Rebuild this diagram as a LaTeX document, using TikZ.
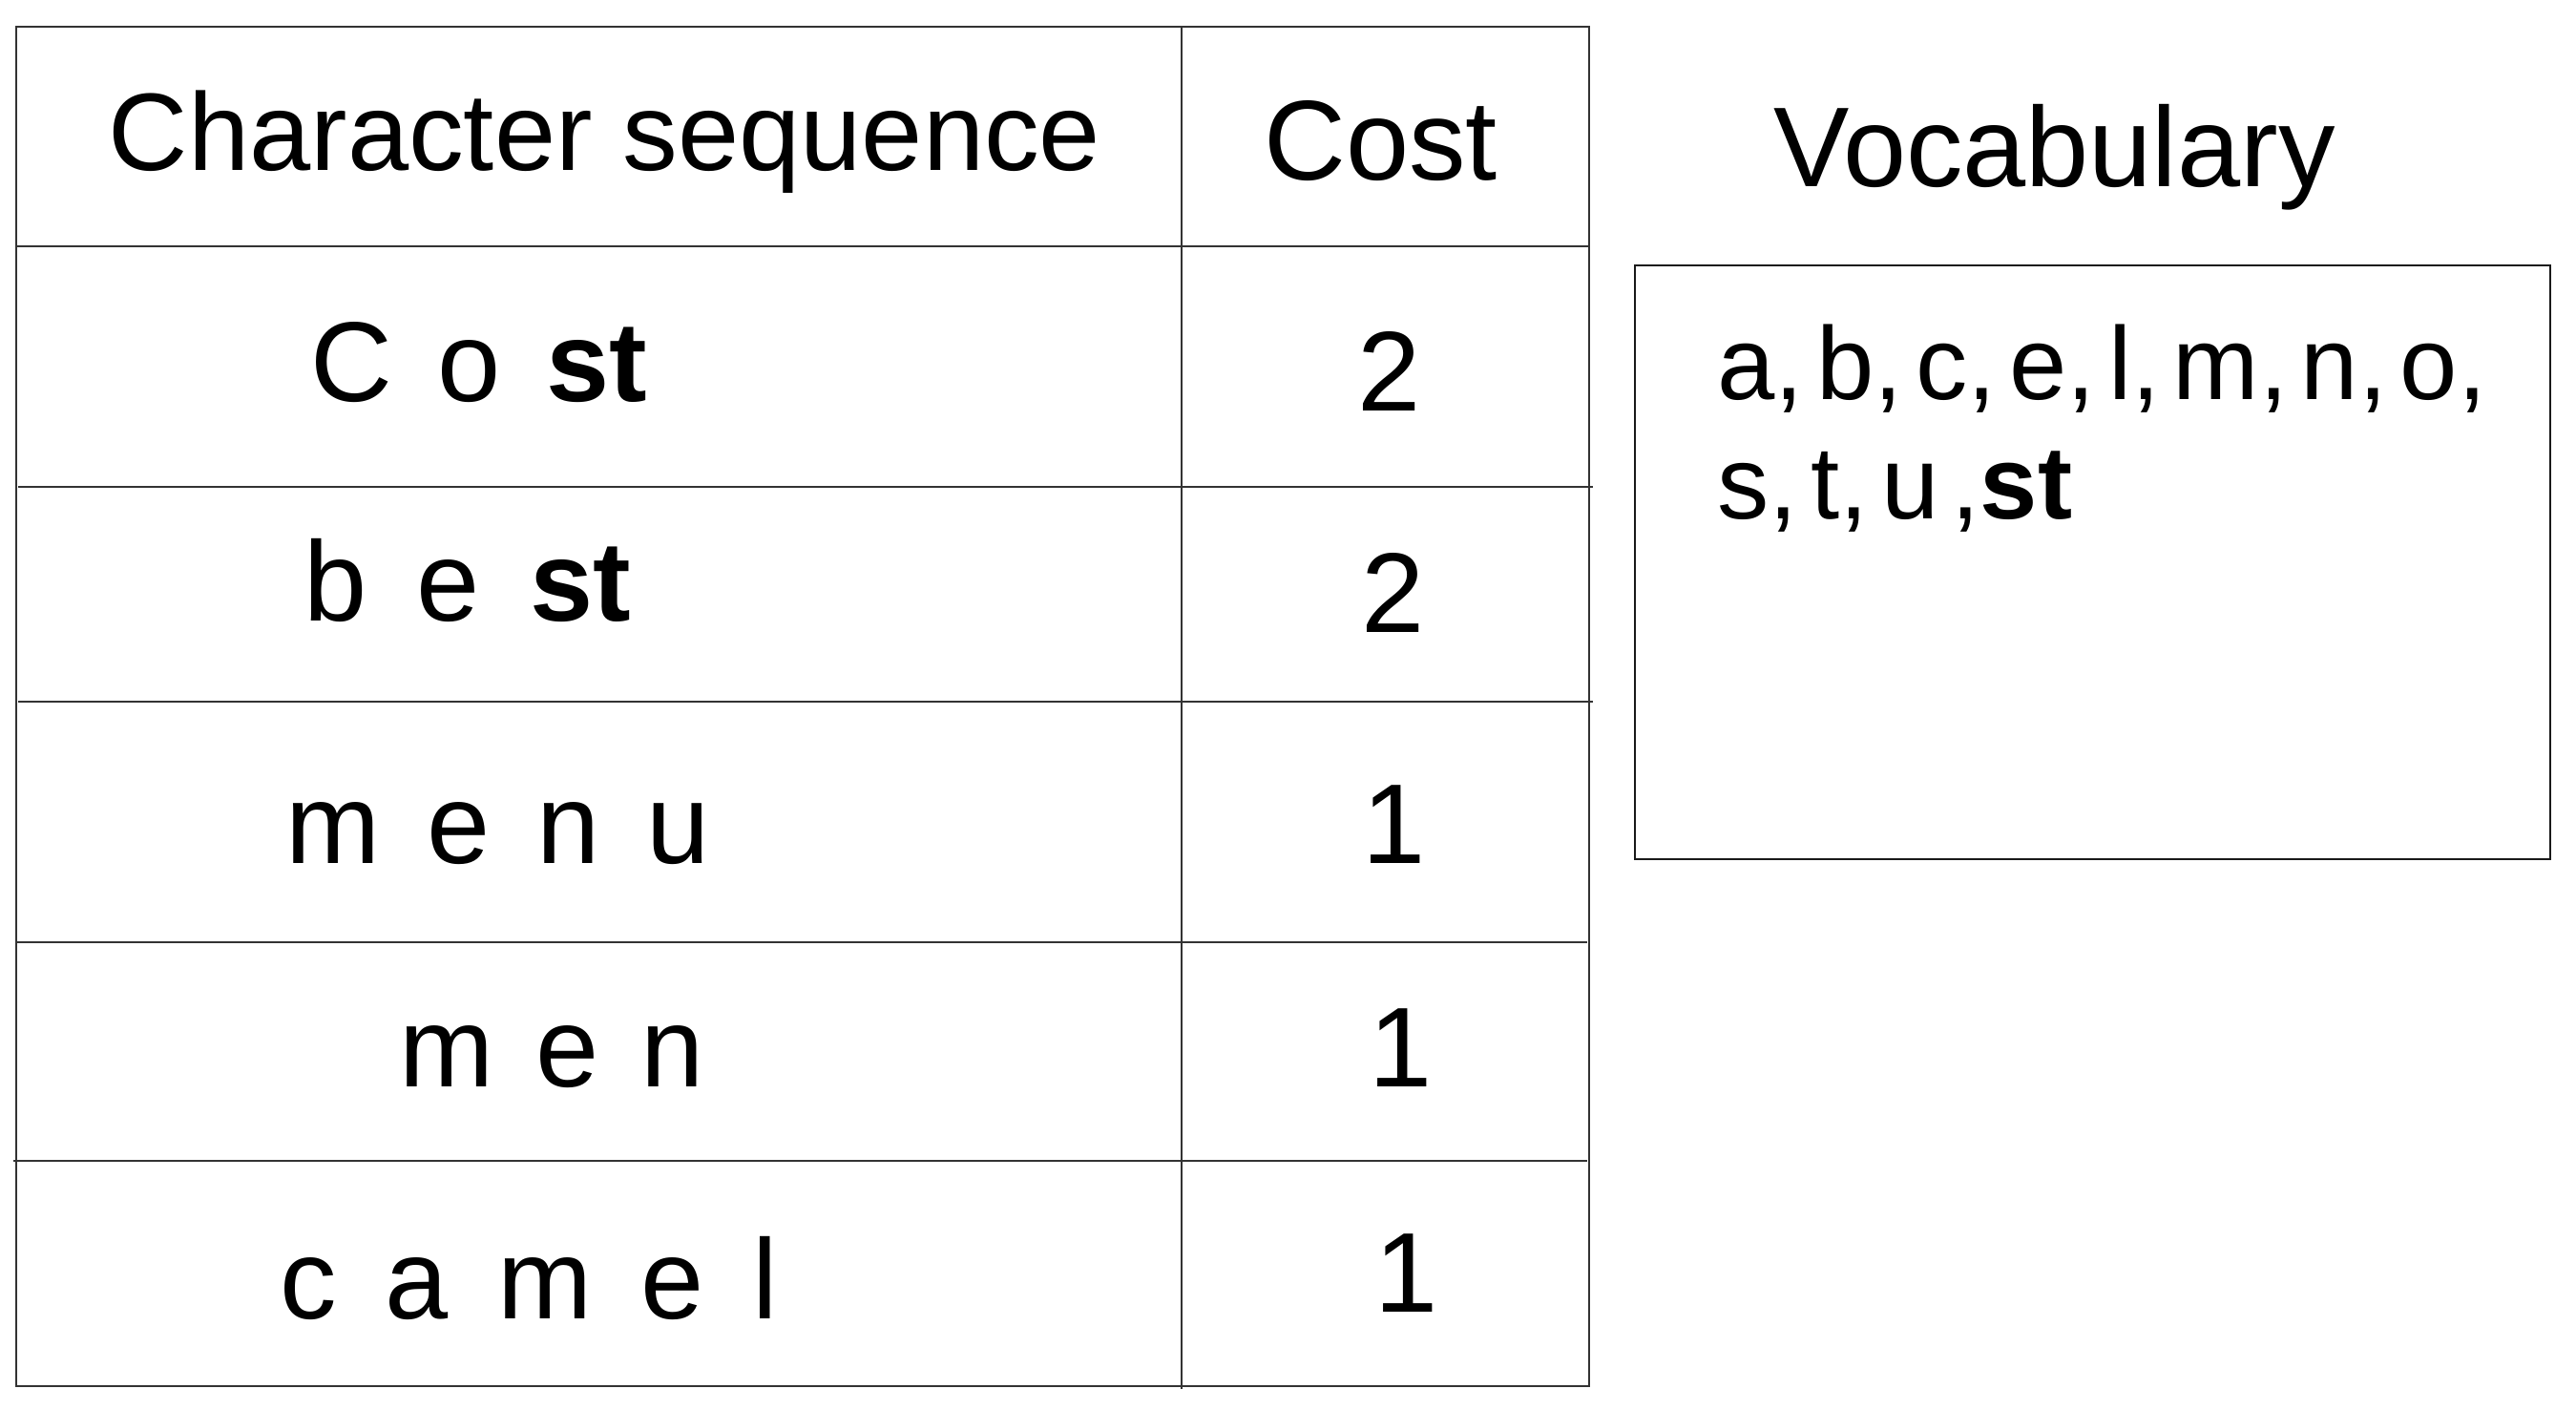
\documentclass[tikz,border=0pt]{standalone}
\usepackage{fontspec}
\setmainfont{Liberation Sans}
\usetikzlibrary{shapes,arrows,positioning}
\newcommand{\vocabfont}{\fontsize{31}{36}\selectfont\spaceskip=0.125em\relax}
\tikzstyle{rule}     = [draw=black!80, line width=0.6pt]
\tikzstyle{cell}     = [inner sep=0pt, anchor=base west, font=\fontsize{34}{36}\selectfont]
\tikzstyle{num}      = [inner sep=0pt, anchor=base, font=\fontsize{34}{36}\selectfont]
\tikzstyle{vocab}    = [inner sep=0pt, anchor=base west, font=\vocabfont]
\tikzstyle{vbox}     = [draw=black!90, line width=0.6pt, anchor=north west, minimum width=9.636cm, minimum height=6.245cm]
\newcommand{\lgap}[1]{\hspace{#1em}}

\begin{document}
\begin{tikzpicture}[x=0.0173cm, y=-0.0173cm]
	\useasboundingbox (0,0) rectangle (1567.4,857.7);
	% Table %
	\draw [rule] (10,16) rectangle (967,843);
	\draw [rule] (719,16) -- (719,845);
	\foreach \y/\a/\b in {150/10/967, 296/11/969, 427/11/969, 573/10/966, 706/8/966}
		\draw [rule] (\a,\y) -- (\b,\y);
	% Header %
	\node [num, font=\fontsize{33}{36}\selectfont] (seqhead) at (368,103.5) {Character sequence};
	\node [num] (costhead) at (840,109.5) {Cost};
	% Rows %
	\node [cell] (seq1) at (188.5,244) {C\lgap{.4}o\lgap{.4}\textbf{st}};
	\node [cell] (seq2) at (184.5,378) {b\lgap{.44}e\lgap{.44}\textbf{st}};
	\node [cell] (seq3) at (173.5,525) {m\lgap{.41}e\lgap{.41}n\lgap{.41}u};
	\node [cell] (seq4) at (242.5,661) {m\lgap{.37}e\lgap{.37}n};
	\node [cell] (seq5) at (170,802) {c\lgap{.43}a\lgap{.43}m\lgap{.43}e\lgap{.43}l};
	\node [num] (cost1) at (845.5,250) {2};
	\node [num] (cost2) at (847.5,385) {2};
	\node [num] (cost3) at (848,525) {1};
	\node [num] (cost4) at (852,661) {1};
	\node [num] (cost5) at (856,798) {1};
	% Vocabulary %
	\node [num] (vocabhead) at (1250,113.6) {Vocabulary};
	\node [vbox] (vocabbox) at (994,161) {};
	\node [vocab] (vocab1) at (1044.5,243) {a, b, c, e, l, m, n, o,};
	\node [vocab] (vocab2) at (1044.5,315.5) {s, t, u ,\textbf{st}};
\end{tikzpicture}
\end{document}
